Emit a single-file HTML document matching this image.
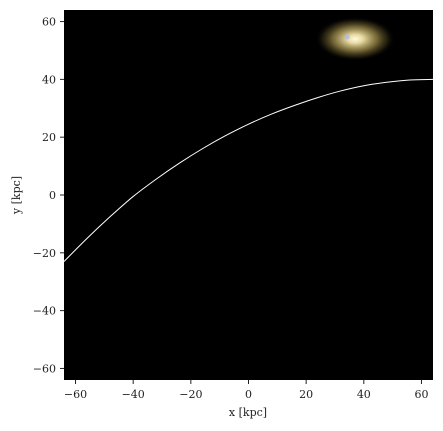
<!DOCTYPE html>
<html><head><meta charset="utf-8"><style>
body{margin:0;background:#fff;}
svg{display:block;font-family:"DejaVu Serif","Liberation Serif",serif;}
</style></head><body>
<svg id="chart" width="443" height="431">
<defs>
<radialGradient id="glow" cx="50%" cy="50%" r="50%">
<stop offset="0" stop-color="#fffbe6"/>
<stop offset="0.2" stop-color="#e8d9a0"/>
<stop offset="0.55" stop-color="#8a7a40" stop-opacity="0.85"/>
<stop offset="0.8" stop-color="#3a3218" stop-opacity="0.6"/>
<stop offset="1" stop-color="#000" stop-opacity="0"/>
</radialGradient>
</defs>
<rect x="64" y="10" width="369" height="370" fill="#000"/>
<g id="blob"></g>
<g id="axes"></g>
<path id="curve" fill="none" stroke="#fff" stroke-width="1"/>
<text x="248" y="416" font-size="11" text-anchor="middle" fill="#222">x [kpc]</text>
<text transform="translate(20,195) rotate(-90)" font-size="11" text-anchor="middle" fill="#222">y [kpc]</text>
</svg>
<script>
const orbitX=[-64,-56,-48,-40,-32,-24,-16,-8,0,8,16,24,32,40,48,56,64];
const orbitY=[-23,-15,-7.5,-0.5,5.5,11,16,20.5,24.5,28,31,33.7,36,37.8,39,39.8,40];
const blobX=[37];const blobY=[54];
const xTicks=[-60,-40,-20,0,20,40,60];
const yTicks=[-60,-40,-20,0,20,40,60];
const X0=64,X1=433,Y0=380,Y1=10;
const sx=v=>X0+(v+64)/128*(X1-X0);
const sy=v=>Y0-(v+64)/128*(Y0-Y1);
const NS="http://www.w3.org/2000/svg";
const ax=document.getElementById('axes');
function mk(t,a,p){const e=document.createElementNS(NS,t);for(const k in a)e.setAttribute(k,a[k]);(p||ax).appendChild(e);return e;}
xTicks.forEach(v=>{
 const l=mk('line',{x1:sx(v),x2:sx(v),y1:380,y2:384,stroke:'#222'});
 
 
 const t=mk('text',{x:sx(v),y:398,'font-size':11,'text-anchor':'middle',fill:'#222'});
 t.textContent=(v<0?'\u2212'+(-v):v);
 
 
});
yTicks.forEach(v=>{
 const l=mk('line',{x1:60,x2:64,y1:sy(v),y2:sy(v),stroke:'#222'});
 
 
 const t=mk('text',{x:56,y:sy(v)+4,'font-size':11,'text-anchor':'end',fill:'#222'});
 t.textContent=(v<0?'\u2212'+(-v):v);
 
 
});
const bg=document.getElementById('blob');
blobX.forEach((v,i)=>{
 const e=mk('ellipse',{cx:sx(v),cy:sy(blobY[i]),rx:40,ry:22,fill:'url(#glow)'},bg);
 
 
 const c=mk('circle',{cx:sx(v)-8,cy:sy(blobY[i])-2,r:2.5,fill:'#aabbee',opacity:0.8},bg);
 
 
});
const P=orbitX.map((v,i)=>[sx(v),sy(orbitY[i])]);
let d='M'+P[0].join(',');
for(let i=0;i<P.length-1;i++){
 const p0=P[Math.max(0,i-1)],p1=P[i],p2=P[i+1],p3=P[Math.min(P.length-1,i+2)];
 const c1=[p1[0]+(p2[0]-p0[0])/6,p1[1]+(p2[1]-p0[1])/6];
 const c2=[p2[0]-(p3[0]-p1[0])/6,p2[1]-(p3[1]-p1[1])/6];
 d+='C'+c1.join(',')+' '+c2.join(',')+' '+p2.join(',');
}
document.getElementById('curve').setAttribute('d',d);
</script>
</body></html>
